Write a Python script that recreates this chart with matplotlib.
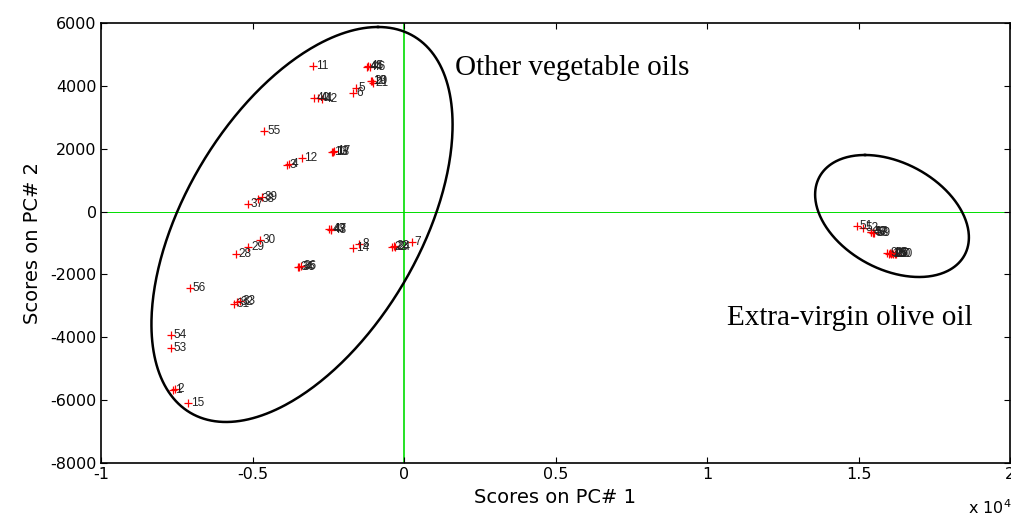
import numpy as np
import matplotlib
matplotlib.use("Agg")
import matplotlib.pyplot as plt

plt.rcParams["axes.unicode_minus"] = False

# PCA scores (sample number, PC1, PC2)
sample = [str(i) for i in range(1, 61)]
pc1 = [-7635, -7560, -3872, -3790, -1594, -1673, 253, -1474, 15950, 16000,
       -3010, -3377, -2386, -1672, -7118, 16050, -2310, -2350, -1100, -1060,
       -1020, -400, -330, -300, 16080, 16120, 16150, -5545, -5138, -4752,
       -5611, -5500, -5412, -3500, -3454, -3400, -5159, -4807, -4697, -2960,
       -2850, -2717, -2460, -1230, -1180, -1130, -2420, -2400, 15400, 16200,
       14941, 15150, -7701, -7701, -4610, -7062, 15420, 15468, 15520, 16250]
pc2 = [-5677, -5660, 1482, 1520, 3922, 3763, -958, -1041, -1330, -1340,
       4642, 1714, 1905, -1150, -6081, -1320, 1920, 1890, 4140, 4150,
       4100, -1117, -1110, -1140, -1340, -1330, -1350, -1350, -1117, -905,
       -2941, -2880, -2836, -1750, -1754, -1740, 241, 390, 473, 3604,
       3600, 3582, -565, 4610, 4620, 4600, -560, -575, -640, -1345,
       -458, -520, -4330, -3927, 2573, -2443, -660, -672, -680, -1350]

# group ellipses: centre, top point vector, horizontal conjugate half-width
ell_centre = [(-3366, -411), (16106, -141)]
ell_u = [(2508, 6284), (-891, 1941)]
ell_v = [(4290, 0), (2376, 0)]

group_name = ["Other vegetable oils", "Extra-virgin olive oil"]
group_xy = [(1680, 4570), (10660, -3390)]

fig = plt.figure(figsize=(10.12, 5.14), dpi=100)
ax = fig.add_axes([101/1012, 51/514, 909/1012, 440/514])

ax.axhline(0, color="#00dd00", lw=0.7, zorder=1)
ax.axvline(0, color="#00dd00", lw=1.2, zorder=1)

ax.plot(pc1, pc2, "+", color="red", ms=6, mew=0.9, zorder=3)
for s, x, y in zip(sample, pc1, pc2):
    ax.annotate(s, (x, y), xytext=(2, 0), textcoords="offset points",
                va="center", ha="left", fontsize=8.5,
                family="Liberation Sans", color="#222222", zorder=4)

t = np.linspace(0, 2*np.pi, 400)
for c, u, v in zip(ell_centre, ell_u, ell_v):
    ex = c[0] + u[0]*np.cos(t) + v[0]*np.sin(t)
    ey = c[1] + u[1]*np.cos(t) + v[1]*np.sin(t)
    ax.plot(ex, ey, color="black", lw=1.8, zorder=2)

for name, (x, y) in zip(group_name, group_xy):
    ax.text(x, y, name, family="Liberation Serif", fontsize=21,
            va="center", ha="left")

ax.set_xlim(-10000, 20000)
ax.set_ylim(-8000, 6000)
ax.set_xticks([-10000, -5000, 0, 5000, 10000, 15000, 20000])
ax.set_xticklabels(["-1", "-0.5", "0", "0.5", "1", "1.5", "2"])
ax.set_yticks(range(-8000, 6001, 2000))
ax.tick_params(direction="in", top=True, right=True, length=4,
               labelsize=11.5, width=0.8, pad=3)
for sp in ax.spines.values():
    sp.set_linewidth(1.2)

ax.set_xlabel("Scores on PC# 1", fontsize=14, labelpad=4)
ax.set_ylabel("Scores on PC# 2", fontsize=14, labelpad=6)
fig.text(968/1012, 1 - 508/514, r"x 10$^4$", fontsize=11.5, va="center")

fig.savefig("out.png", dpi=100)
